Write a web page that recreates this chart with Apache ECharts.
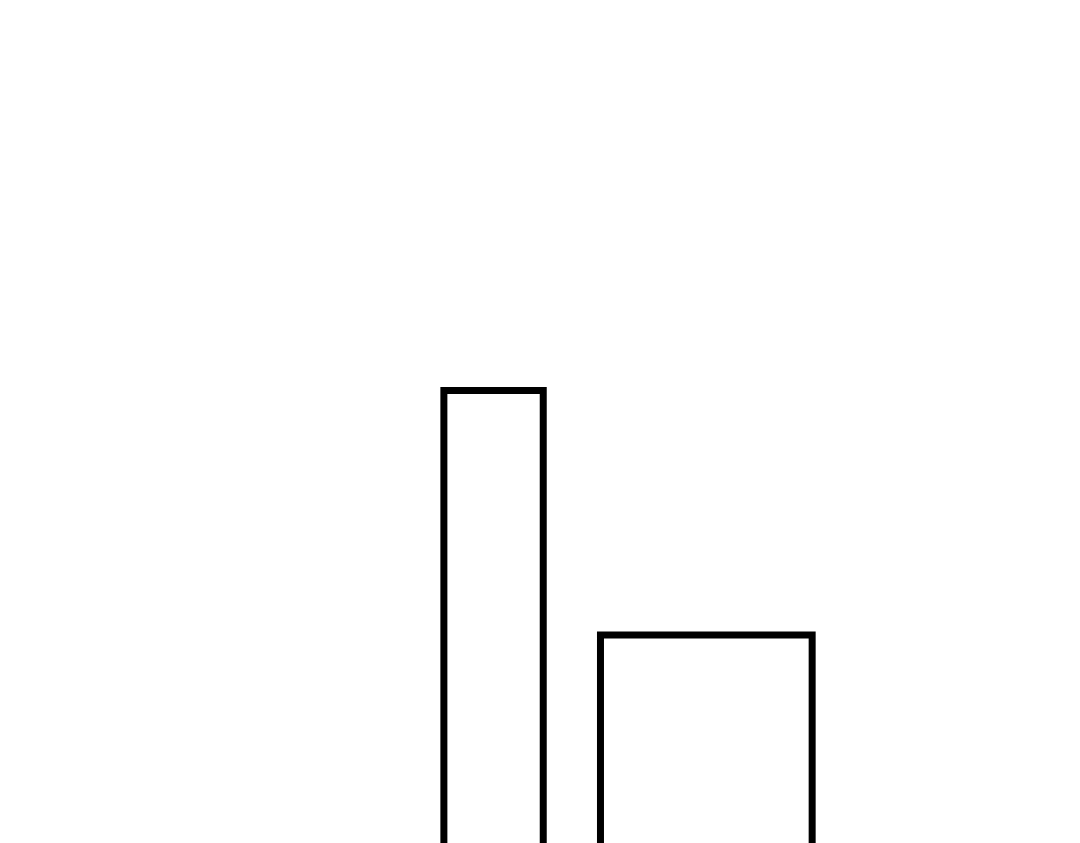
<!DOCTYPE html>
<html>
<head>
<meta charset="utf-8">
<script src="https://cdn.jsdelivr.net/npm/echarts@6/dist/echarts.min.js"></script>
<style>
  html, body { margin: 0; padding: 0; background: #fff; }
  #main { width: 1080px; height: 843px; }
</style>
</head>
<body>
<div id="main"></div>
<script>
// 两个柱子: 起点, 终点, 高度
const barStarts = [4.11, 5.56];
const barEnds = [5.03, 7.52];
const barHeights = [5.83, 3.22];

var bars = [];
for (var i = 0; i < barStarts.length; i++) {
    bars.push([barStarts[i], barEnds[i], barHeights[i]]);
}

var myChart = echarts.init(document.getElementById('main'));

option = {
    backgroundColor: '#fff',
    animation: false,
    grid: {
        left: 0,
        right: 0,
        top: 0,
        bottom: 0
    },
    xAxis: {
        type: 'value',
        min: 0,
        max: 10,
        show: false
    },
    yAxis: {
        type: 'value',
        min: 1,     // 0 在画面下方, 柱子底部看不到
        max: 10,
        show: false
    },
    series: [
        {
            type: 'custom',
            clip: false,
            data: bars,
            renderItem: function (params, api) {
                var topLeft = api.coord([api.value(0), api.value(2)]);
                var bottomRight = api.coord([api.value(1), 0]);
                return {
                    type: 'rect',
                    shape: {
                        x: topLeft[0],
                        y: topLeft[1],
                        width: bottomRight[0] - topLeft[0],
                        height: bottomRight[1] - topLeft[1]
                    },
                    style: {
                        fill: 'none',
                        stroke: '#000',
                        lineWidth: 7
                    }
                };
            }
        }
    ]
};

myChart.setOption(option);
</script>
</body>
</html>
